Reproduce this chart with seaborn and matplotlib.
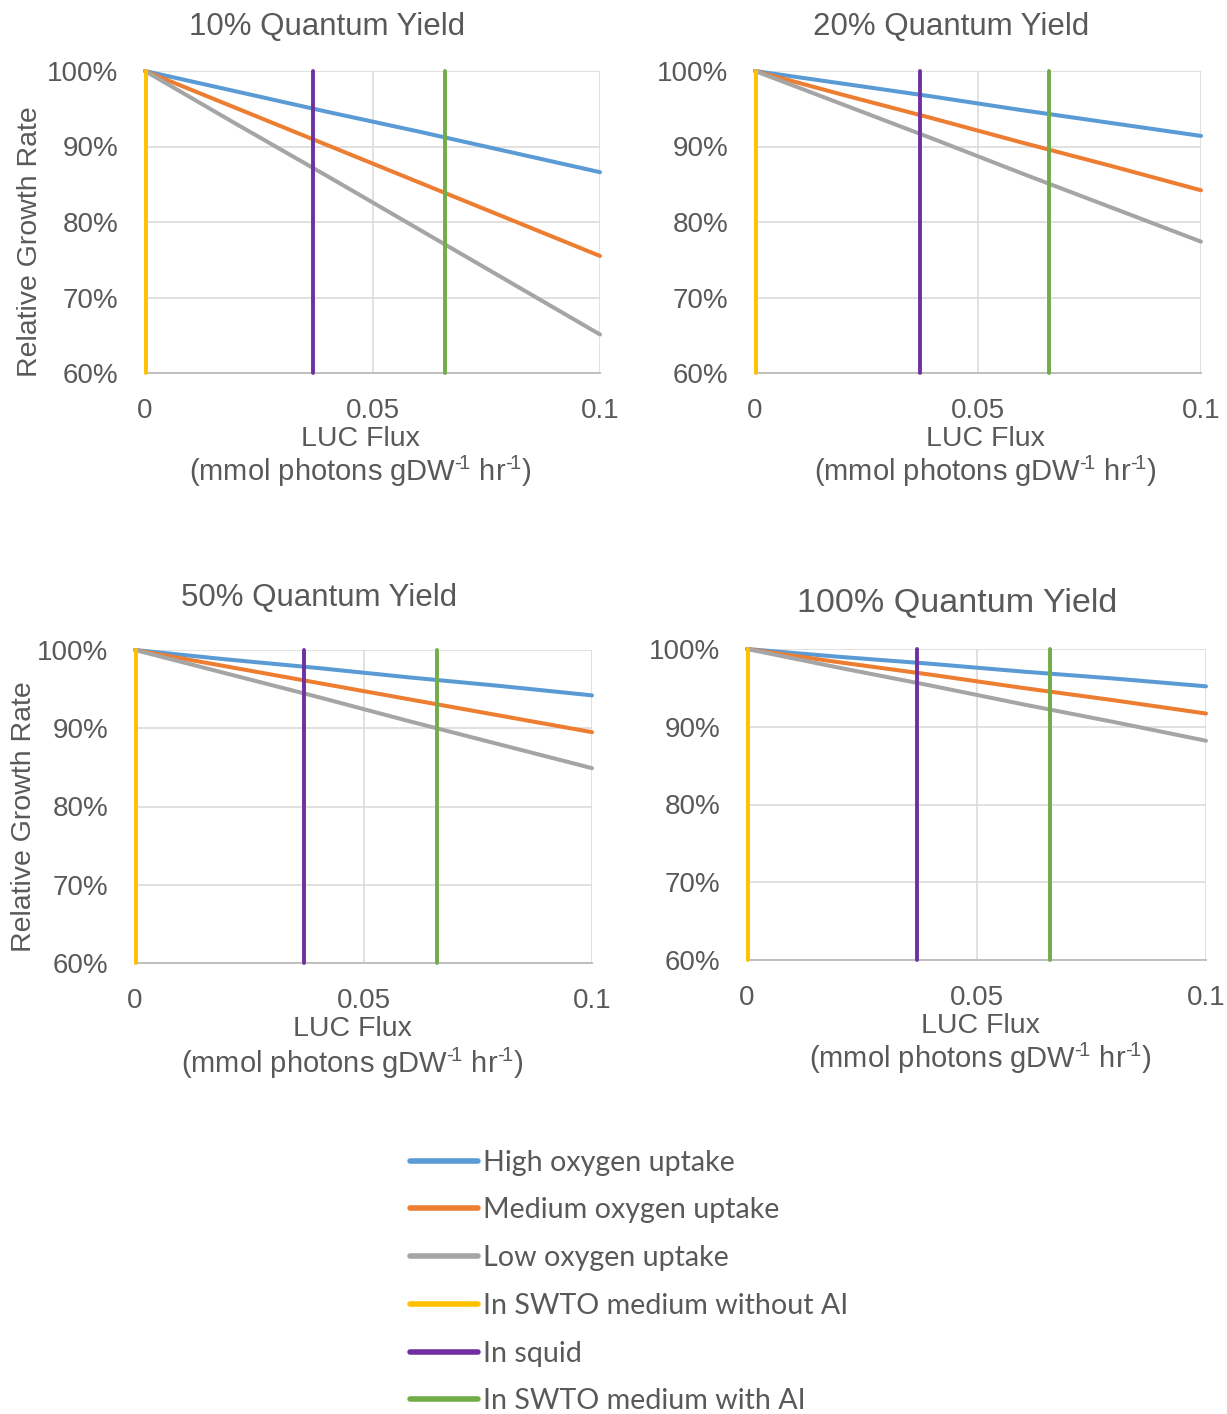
import matplotlib
matplotlib.use("Agg")
import matplotlib.pyplot as plt
from matplotlib.lines import Line2D
from matplotlib.ticker import PercentFormatter, FixedLocator
import seaborn as sns
import pandas as pd

# ---------------- data ----------------
flux = [0.0, 0.02, 0.04, 0.06, 0.08, 0.1]
series_names = ["High oxygen uptake", "Medium oxygen uptake", "Low oxygen uptake"]
marker_names = ["In SWTO medium without AI", "In squid", "In SWTO medium with AI"]
marker_flux = [0.0003, 0.037, 0.066]

panel_titles = ["10% Quantum Yield", "20% Quantum Yield", "50% Quantum Yield", "100% Quantum Yield"]

qy10_high = [1.000, 0.973, 0.946, 0.920, 0.893, 0.866]
qy10_med = [1.000, 0.951, 0.902, 0.853, 0.804, 0.755]
qy10_low = [1.000, 0.930, 0.861, 0.791, 0.721, 0.651]

qy20_high = [1.000, 0.983, 0.966, 0.948, 0.931, 0.914]
qy20_med = [1.000, 0.968, 0.937, 0.905, 0.874, 0.842]
qy20_low = [1.000, 0.955, 0.910, 0.864, 0.819, 0.774]

qy50_high = [1.000, 0.988, 0.977, 0.965, 0.954, 0.942]
qy50_med = [1.000, 0.979, 0.958, 0.937, 0.916, 0.895]
qy50_low = [1.000, 0.970, 0.940, 0.909, 0.879, 0.849]

qy100_high = [1.000, 0.990, 0.981, 0.971, 0.962, 0.952]
qy100_med = [1.000, 0.983, 0.967, 0.950, 0.934, 0.917]
qy100_low = [1.000, 0.976, 0.953, 0.929, 0.906, 0.882]

y_ticks = [0.6, 0.7, 0.8, 0.9, 1.0]
x_ticks = [0.0, 0.05, 0.1]
x_tick_labels = ["0", "0.05", "0.1"]

series_colors = ["#5B9BD5", "#ED7D31", "#A5A5A5"]
marker_colors = ["#FFC000", "#7030A0", "#70AD47"]

panels = [
    (qy10_high, qy10_med, qy10_low),
    (qy20_high, qy20_med, qy20_low),
    (qy50_high, qy50_med, qy50_low),
    (qy100_high, qy100_med, qy100_low),
]

# ---------------- style ----------------
sns.set_theme(style="white")
plt.rcParams["font.family"] = ["Liberation Sans", "DejaVu Sans"]
plt.rcParams["mathtext.fontset"] = "custom"
plt.rcParams["mathtext.rm"] = "Liberation Sans"
plt.rcParams["mathtext.it"] = "Liberation Sans"
plt.rcParams["mathtext.default"] = "regular"

TXT = "#595959"
W, H = 1227, 1414
fig = plt.figure(figsize=(W / 100, H / 100), dpi=100)

# pixel boxes (left, right, top, bottom)
boxes = [(145, 600, 71, 373), (755, 1201, 71, 373), (135, 592, 650, 963), (747, 1206, 649, 960)]
title_pos = [(327, 27, 22.5), (951, 27, 22.5), (319, 598, 22.5), (957, 603, 24.5)]
xlab_pos = [(360, 439, 471), (985, 439, 471), (352, 1029, 1063), (980, 1026, 1058)]
ylab_pos = {0: (30, 242), 2: (24, 817)}

for i, (box, vals) in enumerate(zip(boxes, panels)):
    l, r, t, b = box
    ax = fig.add_axes([l / W, 1 - b / H, (r - l) / W, (b - t) / H])
    df = pd.concat([
        pd.DataFrame({"flux": flux, "growth": v, "series": n})
        for v, n in zip(vals, series_names)
    ])
    sns.lineplot(data=df, x="flux", y="growth", hue="series", hue_order=series_names,
                 palette=series_colors, linewidth=2.9, legend=False, ax=ax, clip_on=False,
                 zorder=3)
    for mx, mc in zip(marker_flux, marker_colors):
        ax.axvline(mx, ymin=0, ymax=1, color=mc, linewidth=2.8, zorder=4, clip_on=False)

    ax.set_xlim(0, 0.1)
    ax.set_ylim(0.6, 1.0)
    ax.xaxis.set_major_locator(FixedLocator(x_ticks))
    ax.set_xticklabels(x_tick_labels)
    ax.yaxis.set_major_locator(FixedLocator(y_ticks))
    ax.yaxis.set_major_formatter(PercentFormatter(1.0, decimals=0))
    ax.grid(True, color="#D9D9D9", linewidth=1.1, zorder=0)
    ax.set_axisbelow(True)
    for s in ["top", "right", "left"]:
        ax.spines[s].set_visible(False)
    ax.spines["bottom"].set_color("#BFBFBF")
    ax.spines["bottom"].set_linewidth(1.4)
    ax.tick_params(axis="both", length=0, labelsize=20, labelcolor=TXT)
    ax.tick_params(axis="y", pad=19)
    ax.tick_params(axis="x", pad=18)
    ax.set_xlabel("")
    ax.set_ylabel("")

    tx, ty, ts = title_pos[i]
    fig.text(tx / W, 1 - ty / H, panel_titles[i], ha="center", va="center",
             fontsize=ts, color=TXT)
    xx, y1, y2 = xlab_pos[i]
    fig.text(xx / W, 1 - y1 / H, "LUC Flux", ha="center", va="center", fontsize=20.5, color=TXT)
    fig.text(xx / W, 1 - y2 / H, "(mmol photons gDW$^{\u2010\\!1}$ hr$^{\u2010\\!1}$)", ha="center",
             va="center", fontsize=21, color=TXT)
    if i in ylab_pos:
        yx, yy = ylab_pos[i]
        fig.text(yx / W, 1 - yy / H, "Relative Growth Rate", rotation=90, ha="center",
                 va="center", fontsize=20.5, color=TXT)

# ---------------- legend ----------------
handles = [Line2D([0], [0], color=c, linewidth=4, solid_capstyle="round")
           for c in series_colors + marker_colors]
labels = series_names + marker_names
leg = fig.legend(handles, labels, loc="center left",
                 bbox_to_anchor=(396 / W, 1 - 1282 / H), frameon=False,
                 borderpad=0, handlelength=2.35, handletextpad=0.2, labelspacing=0.76,
                 prop={"family": ["Lato", "DejaVu Sans"], "size": 20.6})
for txt in leg.get_texts():
    txt.set_color(TXT)

fig.savefig("out.png", dpi=100, facecolor="white")
